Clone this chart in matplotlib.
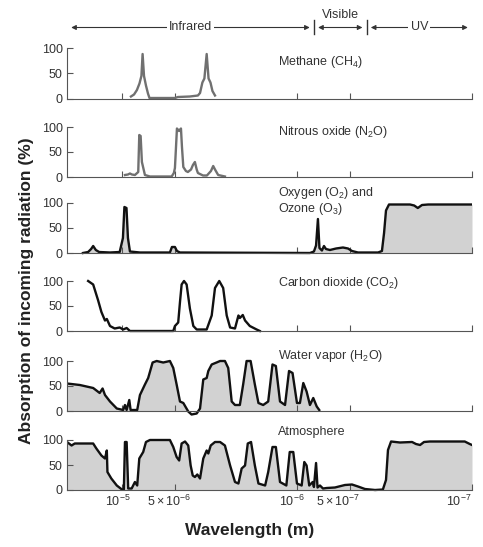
import numpy as np
import matplotlib
matplotlib.use('Agg')
import matplotlib.pyplot as plt
import matplotlib.transforms as mtransforms
from matplotlib.pyplot import rcParams
from matplotlib.ticker import NullLocator

rcParams['font.family'] = ['Liberation Sans', 'DejaVu Sans']
rcParams['mathtext.fontset'] = 'custom'
rcParams['mathtext.rm'] = 'Liberation Sans'
rcParams['mathtext.it'] = 'Liberation Sans:italic'
rcParams['mathtext.bf'] = 'Liberation Sans:bold'

# wavelengths in micrometres, absorption in percent
methane_wl = [8.88, 8.53, 8.21, 7.94, 7.74, 7.62, 7.48, 7.29, 7.10, 6.96, 6.06, 4.98, 4.79,
              4.09, 3.68, 3.58, 3.47, 3.38, 3.28, 3.20, 3.12, 3.04, 2.94]
methane_abs = [4, 8, 17, 30, 45, 89, 45, 26, 10, 1, 1, 1, 3,
               4, 6, 11, 32, 40, 89, 40, 32, 15, 6]

n2o_wl = [9.61, 9.24, 9.00, 8.77, 8.43, 8.07, 7.96, 7.82, 7.69, 7.39, 6.92, 5.20, 5.05,
          4.98, 4.91, 4.85, 4.72, 4.60, 4.54, 4.46, 4.31, 4.20, 4.03, 3.93, 3.83, 3.74,
          3.68, 3.44, 3.27, 3.10, 3.01, 2.94, 2.82, 2.58]
n2o_abs = [4, 5, 7, 5, 4, 10, 84, 82, 30, 4, 1, 1, 8,
           18, 60, 97, 92, 97, 60, 20, 12, 10, 15, 24, 30, 15,
           8, 3, 3, 12, 22, 15, 4, 1]

oxy_wl = [16.7, 15.6, 15.0, 14.6, 14.1, 13.5, 11.7, 10.3, 9.87, 9.68, 9.42, 9.24, 9.00,
          7.89, 5.32, 5.18, 4.98, 4.85, 4.66, 0.843, 0.800, 0.778, 0.759, 0.744, 0.720,
          0.701, 0.683, 0.648, 0.598, 0.546, 0.511, 0.485, 0.448, 0.344, 0.327, 0.318,
          0.310, 0.298, 0.226, 0.214, 0.204, 0.193, 0.178, 0.100]
oxy_abs = [0, 2, 8, 14, 6, 2, 1, 2, 30, 92, 90, 30, 3,
           1, 1, 12, 12, 4, 1, 0, 3, 15, 68, 10, 5,
           14, 8, 6, 9, 11, 9, 4, 1, 1, 4, 40,
           85, 97, 97, 95, 90, 96, 97, 97]

co2_wl = [15.6, 14.6, 13.7, 13.1, 12.5, 12.2, 11.7, 11.0, 10.3, 9.84, 9.40, 9.00, 5.09,
          4.98, 4.77, 4.66, 4.56, 4.42, 4.27, 4.09, 3.91, 3.74, 3.28, 3.07, 2.94, 2.78,
          2.64, 2.52, 2.41, 2.26, 2.16, 2.12, 2.04, 1.98, 1.86, 1.70, 1.63]
co2_abs = [100, 93, 62, 38, 21, 24, 10, 5, 7, 3, 6, 0, 0,
           10, 17, 58, 93, 100, 93, 45, 10, 3, 3, 31, 86, 100,
           86, 31, 7, 5, 31, 26, 32, 21, 10, 3, 0]

h2o_wl = [20.6, 17.4, 14.6, 13.4, 12.9, 12.5, 11.7, 10.7, 9.84, 9.61, 9.40, 9.08, 8.92,
          8.18, 7.89, 7.39, 7.08, 6.68, 6.33, 5.81, 5.32, 5.09, 4.87, 4.66, 4.46, 4.18,
          4.00, 3.74, 3.58, 3.43, 3.28, 3.21, 3.07, 2.88, 2.75, 2.58, 2.47, 2.36, 2.26,
          2.12, 2.03, 1.94, 1.84, 1.74, 1.66, 1.56, 1.46, 1.38, 1.32, 1.25, 1.17, 1.11,
          1.06, 1.00, 0.962, 0.920, 0.881, 0.843, 0.807, 0.771, 0.746]
h2o_abs = [55, 52, 46, 36, 45, 32, 19, 5, 2, 12, 2, 22, 2,
           2, 32, 53, 66, 97, 100, 97, 100, 86, 53, 19, 16, -1,
           -7, -5, 5, 63, 66, 80, 93, 97, 100, 100, 86, 19, 12,
           12, 53, 100, 100, 53, 16, 12, 19, 93, 90, 19, 12, 80,
           76, 16, 16, 56, 39, 12, 26, 9, 2]

atm_wl = [20.6, 19.4, 18.6, 14.6, 14.0, 13.1, 12.5, 12.2, 12.1, 11.5, 10.7, 10.0, 9.75,
          9.61, 9.40, 9.21, 8.80, 8.43, 8.18, 7.96, 7.56, 7.29, 6.92, 5.32, 5.09, 4.87,
          4.71, 4.56, 4.36, 4.18, 4.05, 3.94, 3.83, 3.71, 3.58, 3.43, 3.28, 3.21, 3.11,
          2.94, 2.75, 2.58, 2.41, 2.26, 2.16, 2.07, 1.98, 1.91, 1.83, 1.74, 1.66, 1.52,
          1.46, 1.38, 1.32, 1.25, 1.15, 1.10, 1.05, 1.00, 0.940, 0.908, 0.881, 0.851,
          0.813, 0.800, 0.778, 0.763, 0.739, 0.710, 0.676, 0.607, 0.532, 0.485, 0.448,
          0.409, 0.358, 0.323, 0.310, 0.302, 0.290, 0.258, 0.220, 0.209, 0.198, 0.188,
          0.174, 0.110, 0.103, 0.100]
atm_abs = [96, 89, 93, 93, 83, 69, 63, 79, 36, 23, 9, 1, 1,
           96, 96, 3, 3, 16, 9, 63, 76, 96, 100, 100, 86, 66,
           59, 93, 97, 89, 49, 29, 26, 31, 23, 63, 79, 73, 89,
           96, 96, 89, 49, 16, 13, 43, 49, 93, 96, 49, 13, 9,
           36, 86, 86, 16, 9, 76, 76, 13, 9, 56, 49, 9,
           16, 6, 54, 5, 9, 3, 4, 5, 10, 11, 7,
           2, 0, 1, 20, 80, 97, 95, 96, 92, 90, 96,
           97, 97, 92, 90]

panel_names = ['Methane (CH$_4$)', 'Nitrous oxide (N$_2$O)',
               'Oxygen (O$_2$) and\nOzone (O$_3$)', 'Carbon dioxide (CO$_2$)',
               'Water vapor (H$_2$O)', 'Atmosphere']
panel_wl = [methane_wl, n2o_wl, oxy_wl, co2_wl, h2o_wl, atm_wl]
panel_abs = [methane_abs, n2o_abs, oxy_abs, co2_abs, h2o_abs, atm_abs]

tick_wl = [10, 5, 1, 0.5, 0.1]
tick_labels = [r'$10^{-5}$', r'$5\times10^{-6}$', r'$10^{-6}$', r'$5\times10^{-7}$', r'$10^{-7}$']
region_edges = [0.8, 0.4]  # infrared | visible | UV

# styling / layout
line_colors = ['#707070', '#707070', '#111111', '#111111', '#111111', '#111111']
filled = [False, False, True, False, True, True]
label_y = [73, 90, 104, 96, 110, 116]
baselines = [98.5, 177, 253, 331, 411, 490]  # pixel row of the 0% line
label_shift = [-4, -6, -5, -12, 0]  # px nudges of the x tick labels
FILL = '#d2d2d2'
TXT = '#333333'

W, H = 483, 547
left_px, right_px = 67, 472
fig = plt.figure(figsize=(W / 100, H / 100), dpi=100)

axes = []
for i in range(6):
    b = baselines[i]
    ax = fig.add_axes([left_px / W, 1 - (b + 5) / H, (right_px - left_px) / W, 60 / H])
    ax.set_xscale('log')
    wl = np.array(panel_wl[i])
    ab = np.array(panel_abs[i])
    if filled[i]:
        ax.fill_between(wl, 0, np.maximum(ab, 0), color=FILL, lw=0)
    ax.plot(wl, ab, color=line_colors[i], lw=1.7, solid_joinstyle='round')
    ax.set_xlim(20.6, 0.1)
    ax.set_ylim(-10, 110)
    ax.patch.set_visible(False)
    for s in ['top', 'right']:
        ax.spines[s].set_visible(False)
    ax.spines['bottom'].set_position(('data', 0))
    ax.spines['left'].set_bounds(0, 100)
    ax.spines['bottom'].set_color('#555555')
    ax.spines['left'].set_color('#555555')
    ax.set_xticks(tick_wl)
    ax.xaxis.set_minor_locator(NullLocator())
    ax.set_yticks([0, 50, 100])
    ax.tick_params(axis='x', direction='in', length=4, color='#555555', pad=3,
                   labelsize=9, labelcolor=TXT)
    ax.tick_params(axis='y', direction='in', length=4, color='#555555', pad=3,
                   labelsize=9, labelcolor=TXT)
    if i == 5:
        ax.set_xticklabels(tick_labels)
        for lab, dx in zip(ax.get_xticklabels(), label_shift):
            lab.set_transform(lab.get_transform() +
                              mtransforms.ScaledTranslation(dx / 100, 0, fig.dpi_scale_trans))
        ax.get_xticklabels()[-1].set_ha('right')
    else:
        ax.set_xticklabels([])
    ax.text(0.521, label_y[i], panel_names[i], transform=ax.get_yaxis_transform(),
            ha='left', va='center', fontsize=9, color=TXT, linespacing=1.0)
    axes.append(ax)

# spectral region header
ax0 = axes[0]
arrow = dict(arrowstyle='<|-|>', color=TXT, lw=0.8, mutation_scale=7, shrinkA=3, shrinkB=3)
ax0.annotate('', xy=(20.6, 142), xytext=(region_edges[0], 142), arrowprops=arrow,
             annotation_clip=False)
ax0.annotate('', xy=(region_edges[0], 142), xytext=(region_edges[1], 142), arrowprops=arrow,
             annotation_clip=False)
ax0.annotate('', xy=(region_edges[1], 142), xytext=(0.1, 142), arrowprops=arrow,
             annotation_clip=False)
for e in region_edges:
    ax0.plot([e, e], [128, 156], color=TXT, lw=1.0, clip_on=False)
ax0.text(4.06, 142, 'Infrared', ha='center', va='center', fontsize=9, color=TXT,
         bbox=dict(fc='white', ec='none', pad=1.5))
ax0.text(0.566, 166, 'Visible', ha='center', va='center', fontsize=9, color=TXT)
ax0.text(0.2, 142, 'UV', ha='center', va='center', fontsize=9, color=TXT,
         bbox=dict(fc='white', ec='none', pad=1.5))

fig.text(27 / W, 1 - 291 / H, 'Absorption of incoming radiation (%)', rotation=90,
         ha='center', va='center', fontsize=12.5, fontweight='bold', color='#222222')
fig.text(250 / W, 1 - 530 / H, 'Wavelength (m)', ha='center', va='center',
         fontsize=12.5, fontweight='bold', color='#222222')

fig.savefig('out.png', dpi=100)
